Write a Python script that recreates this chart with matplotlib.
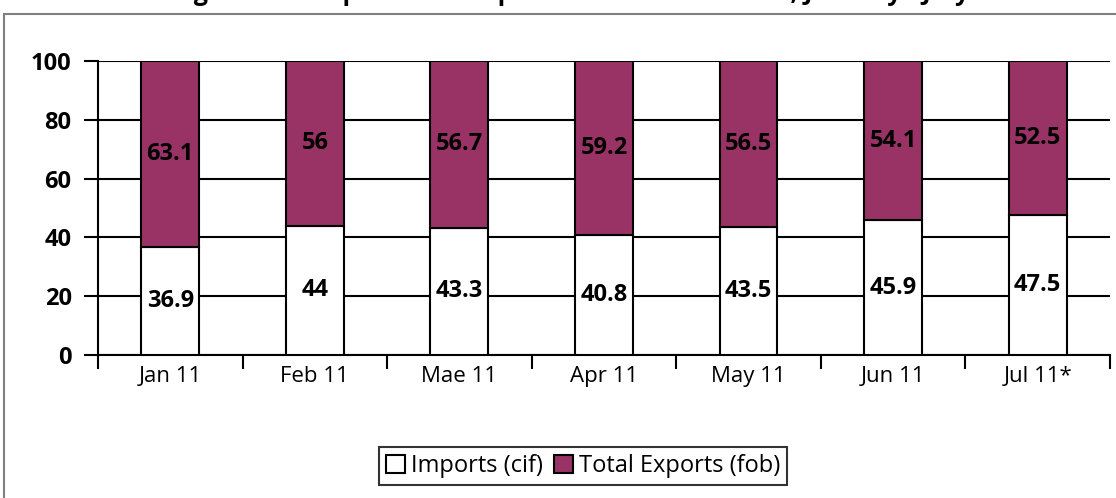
import matplotlib.pyplot as plt
from matplotlib.patches import Rectangle, Patch
import numpy as np

months = ['Jan 11', 'Feb 11', 'Mae 11', 'Apr 11', 'May 11', 'Jun 11', 'Jul 11*']
imports = [36.9, 44, 43.3, 40.8, 43.5, 45.9, 47.5]
exports = [63.1, 56, 56.7, 59.2, 56.5, 54.1, 52.5]
yticks = [0, 20, 40, 60, 80, 100]
title = 'Percentage of the Imports and Exports to the Total Trade, January - July 2011'

plt.rcParams['font.family'] = ['Open Sans', 'DejaVu Sans']

fig = plt.figure(figsize=(11.16, 4.98), dpi=100)
ax = fig.add_axes([0.0878, 0.2871, 0.9068, 0.5904])

# outer chart border
fig.patches.append(Rectangle((4 / 1116, -0.1), 1.2, (498 - 14) / 498 + 0.1,
                             transform=fig.transFigure, fill=False,
                             edgecolor='#7f7f7f', lw=1.5))

# title sits above the visible area, only the descenders show
fig.text(0.5, 1.0, title, ha='center', va='baseline', fontsize=18,
         fontweight='bold')

x = np.arange(len(months))
ax.bar(x, imports, width=0.4, color='white', edgecolor='black', lw=1.5,
       zorder=3, label='Imports (cif)')
ax.bar(x, exports, width=0.4, bottom=imports, color='#993366',
       edgecolor='black', lw=1.5, zorder=3, label='Total Exports (fob)')

for xi, im, ex in zip(x, imports, exports):
    ax.text(xi, im / 2, f'{im:g}', ha='center', va='center', fontsize=17,
            fontweight='bold', zorder=4)
    ax.text(xi, im + ex / 2, f'{ex:g}', ha='center', va='center', fontsize=17,
            fontweight='bold', zorder=4)

ax.set_xlim(-0.5, len(months) - 0.5)
ax.set_ylim(0, 100)
ax.set_yticks(yticks)
ax.set_yticklabels([str(v) for v in yticks], fontsize=17, fontweight='bold')
ax.set_xticks(x)
ax.set_xticklabels(months, fontsize=16)
ax.set_xticks(np.arange(len(months) + 1) - 0.5, minor=True)
ax.tick_params(axis='x', which='major', length=0, pad=8)
ax.tick_params(axis='x', which='minor', length=10, width=1.5, direction='out')
ax.tick_params(axis='y', length=10, width=1.5, direction='out', pad=9)

ax.grid(axis='y', color='black', lw=1.5, zorder=1)
for s in ['top', 'right']:
    ax.spines[s].set_visible(False)
for s in ['left', 'bottom']:
    ax.spines[s].set_linewidth(1.5)
    ax.spines[s].set_zorder(2)

handles = [Patch(facecolor='white', edgecolor='black', lw=1.5, label='Imports (cif)'),
           Patch(facecolor='#993366', edgecolor='black', lw=1.5, label='Total Exports (fob)')]
leg = fig.legend(handles=handles, loc='center', bbox_to_anchor=(583 / 1116, 1 - 466 / 498),
                 ncol=2, fontsize=17, frameon=True, fancybox=False, edgecolor='black',
                 handlelength=0.8, handleheight=0.8, handletextpad=0.25,
                 columnspacing=0.5, borderpad=0.3)
leg.get_frame().set_linewidth(1.5)

fig.savefig('out.png', dpi=100)
